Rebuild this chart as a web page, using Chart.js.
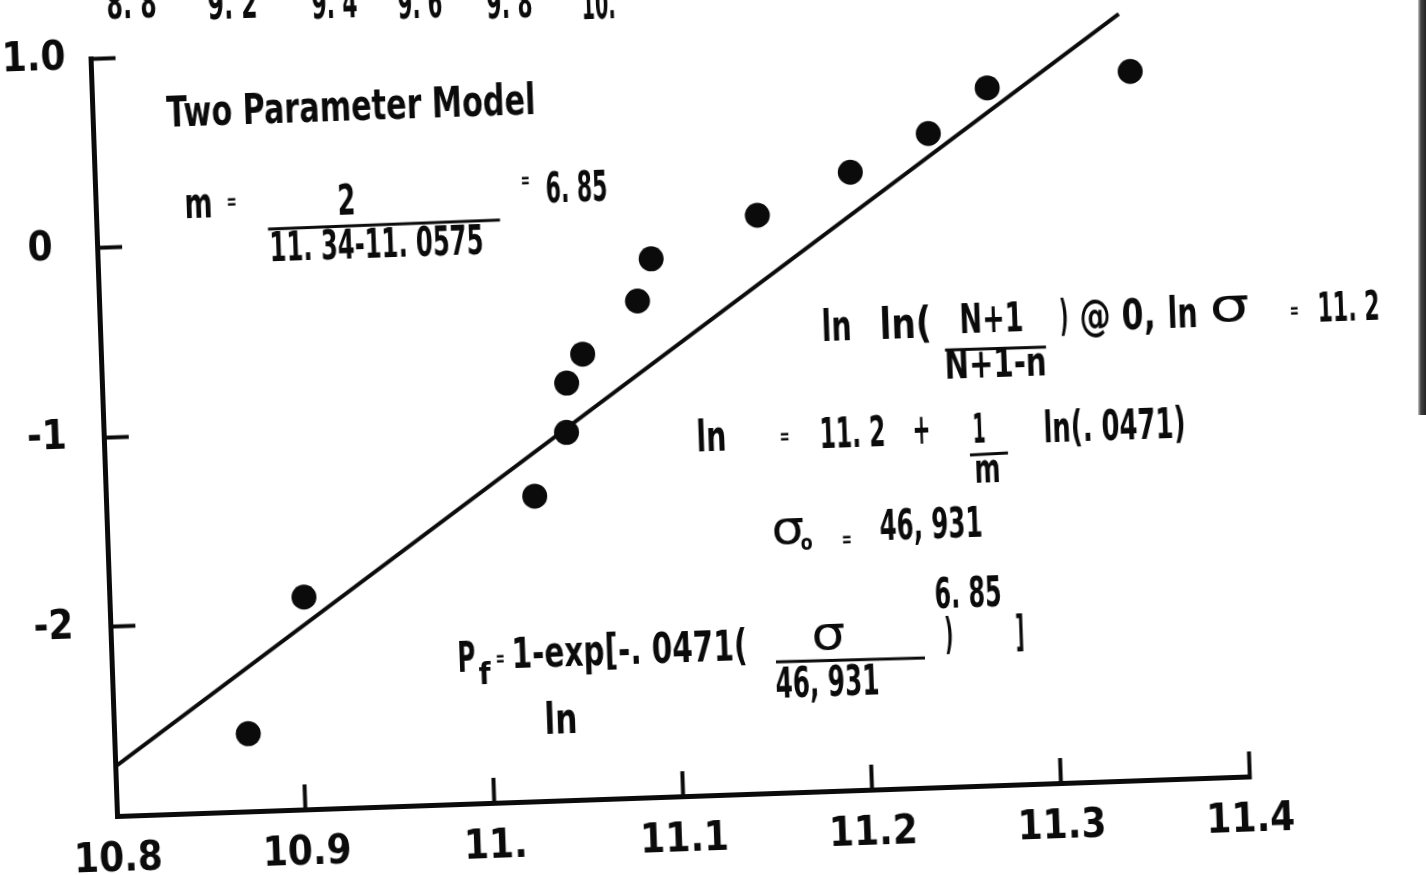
<!DOCTYPE html>
<html>
<head>
<meta charset="utf-8">
<title>Two Parameter Model</title>
<script src="https://cdn.jsdelivr.net/npm/chart.js@4.4.1/dist/chart.umd.min.js"></script>
<style>
  html, body { margin: 0; padding: 0; background: #fff; overflow: hidden; }
  #folha { position: relative; width: 1426px; height: 875px; overflow: hidden; }
  /* the scanned sheet sits about 2 degrees counter-clockwise */
  #grafico { position: absolute; left: 0; top: 0; transform-origin: 117px 816px; transform: rotate(-2deg); }
  #borda { position: absolute; right: 0; top: 0; width: 8px; height: 415px;
           background: linear-gradient(to right, #ccc, #444 35%, #222); }
</style>
</head>
<body>
<div id="folha">
  <canvas id="grafico" width="1426" height="875"></canvas>
  <div id="borda"></div>
</div>
<script>
// data
const lnSigma = [10.871, 10.903, 11.027, 11.045, 11.046, 11.055, 11.085, 11.093, 11.150, 11.200, 11.242, 11.274, 11.350]
const lnLn    = [-2.59, -1.88, -1.39, -1.06, -0.80, -0.65, -0.38, -0.16, 0.05, 0.26, 0.45, 0.68, 0.74]
const fitX = [10.80, 11.345]
const fitY = [-2.74, 1.045]

const xTicks  = [10.8, 10.9, 11.0, 11.1, 11.2, 11.3, 11.4]
const xLabels = ['10.8', '10.9', '11.', '11.1', '11.2', '11.3', '11.4']
const yTicks  = [-3, -2, -1, 0, 1]
const yLabels = ['', '-2', '-1', '0', '1.0']

const tinta = '#0b0b0b'
const familia = "'DejaVu Sans Condensed', 'DejaVu Sans', 'Liberation Sans', sans-serif"

// hand lettering on the sheet: text, left x, baseline y (page px), width, size
const notas = [
  {t: '8. 8', x: 107, y: 19, w: 50},
  {t: '9. 2', x: 208, y: 19, w: 50},
  {t: '9. 4', x: 312, y: 19, w: 46},
  {t: '9. 6', x: 398, y: 19, w: 45},
  {t: '9. 8', x: 487, y: 19, w: 46},
  {t: '10.', x: 582, y: 19, w: 34},
  {t: 'Two Parameter Model', x: 167, y: 127, w: 369},
  {t: 'm', x: 185, y: 218, w: 28},
  {t: '=', x: 227, y: 209, w: 10, s: 22},
  {t: '2', x: 338, y: 215, w: 18},
  {t: '11. 34-11. 0575', x: 270, y: 261, w: 214, s: 40},
  {t: '=', x: 521, y: 188, w: 9, s: 22},
  {t: '6. 85', x: 546, y: 203, w: 62},
  {t: 'ln', x: 822, y: 341, w: 30},
  {t: 'ln(', x: 880, y: 339, w: 52},
  {t: 'N+1', x: 960, y: 333, w: 64, s: 40},
  {t: 'N+1-n', x: 945, y: 379, w: 102, s: 40},
  {t: ')', x: 1060, y: 331, w: 9},
  {t: '@ 0,', x: 1080, y: 331, w: 76},
  {t: 'ln', x: 1168, y: 328, w: 30},
  {t: 'σ', x: 1210, y: 322, w: 40, s: 46, b: 'normal'},
  {t: '=', x: 1290, y: 318, w: 9, s: 22},
  {t: '11. 2', x: 1318, y: 322, w: 62, s: 40},
  {t: 'ln', x: 697, y: 452, w: 30},
  {t: '=', x: 780, y: 444, w: 10, s: 22},
  {t: '11. 2', x: 820, y: 448, w: 66},
  {t: '+', x: 913, y: 444, w: 18},
  {t: '1', x: 973, y: 443, w: 13, s: 40},
  {t: 'm', x: 975, y: 483, w: 26, s: 40},
  {t: 'ln(. 0471)', x: 1044, y: 442, w: 142},
  {t: 'σ', x: 772, y: 544, w: 33, s: 46, b: 'normal'},
  {t: 'o', x: 801, y: 550, w: 12, s: 22},
  {t: '=', x: 842, y: 547, w: 10, s: 22},
  {t: '46, 931', x: 880, y: 540, w: 103},
  {t: '6. 85', x: 935, y: 608, w: 67},
  {t: 'P', x: 458, y: 672, w: 18},
  {t: 'f', x: 479, y: 684, w: 12, s: 30},
  {t: '=', x: 496, y: 666, w: 9, s: 22},
  {t: '1-exp[-. 0471(', x: 512, y: 668, w: 236},
  {t: 'σ', x: 812, y: 650, w: 34, s: 46, b: 'normal'},
  {t: '46, 931', x: 776, y: 698, w: 104},
  {t: ')', x: 945, y: 649, w: 9},
  {t: ']', x: 1016, y: 647, w: 9},
  {t: 'ln', x: 545, y: 734, w: 33}
]
// fraction bars (page px)
const tracos = [
  [268, 229, 500, 220],
  [945, 350, 1046, 347],
  [970, 455, 1008, 453],
  [776, 662, 925, 658]
]

// page px -> canvas px (undo the -2deg turn of the canvas)
const O = {x: 117, y: 816}
const ang = 2 * Math.PI / 180
const co = Math.cos(ang), si = Math.sin(ang)
function naTela(px, py) {
  const dx = px - O.x, dy = py - O.y
  return [O.x + co * dx - si * dy, O.y + si * dx + co * dy]
}

const anotacoes = {
  id: 'anotacoes',
  afterDraw(chart) {
    const ctx = chart.ctx
    ctx.save()
    ctx.fillStyle = tinta
    ctx.textAlign = 'left'
    ctx.textBaseline = 'alphabetic'
    for (const n of notas) {
      const [cx, cy] = naTela(n.x, n.y)
      ctx.font = (n.b || 'bold') + ' ' + (n.s || 42) + 'px ' + familia
      const larg = ctx.measureText(n.t).width
      ctx.save()
      ctx.translate(cx, cy)
      ctx.scale(n.w / larg, 1)
      ctx.fillText(n.t, 0, 0)
      ctx.restore()
    }
    ctx.strokeStyle = tinta
    ctx.lineWidth = 3
    for (const [x1, y1, x2, y2] of tracos) {
      const a = naTela(x1, y1), b = naTela(x2, y2)
      ctx.beginPath()
      ctx.moveTo(a[0], a[1])
      ctx.lineTo(b[0], b[1])
      ctx.stroke()
    }
    ctx.restore()
  }
}

const ctx = document.getElementById('grafico')

new Chart(ctx, {
  type: 'scatter',
  data: {
    datasets: [{
      data: lnSigma.map((v, i) => ({x: v, y: lnLn[i]})),
      backgroundColor: tinta,
      borderWidth: 0,
      pointRadius: 12.5,
      pointHoverRadius: 12.5
    }, {
      type: 'line',
      data: fitX.map((v, i) => ({x: v, y: fitY[i]})),
      borderColor: tinta,
      borderWidth: 4,
      pointRadius: 0,
      fill: false,
      clip: false
    }]
  },
  options: {
    responsive: false,
    animation: false,
    events: [],
    devicePixelRatio: 1,
    layout: {padding: {top: 58, right: 176, left: 0, bottom: 0}},
    plugins: {legend: {display: false}, tooltip: {enabled: false}},
    scales: {
      x: {
        type: 'linear',
        min: 10.8,
        max: 11.4,
        afterBuildTicks: s => { s.ticks = xTicks.map(v => ({value: v})) },
        afterFit: s => { s.height = 59 },
        ticks: {
          autoSkip: false,
          maxRotation: 0,
          padding: 46,
          color: tinta,
          font: {family: familia, size: 40, weight: 'bold'},
          callback: (v, i) => xLabels[i]
        },
        grid: {drawOnChartArea: false, tickLength: -25, tickWidth: 4, tickColor: tinta},
        border: {display: true, color: tinta, width: 5}
      },
      y: {
        type: 'linear',
        min: -3,
        max: 1,
        afterBuildTicks: s => { s.ticks = yTicks.map(v => ({value: v})) },
        afterFit: s => { s.width = 117; s.paddingTop = 0; s.paddingBottom = 0 },
        ticks: {
          autoSkip: false,
          padding: 50,
          crossAlign: 'center',
          color: tinta,
          font: {family: familia, size: 40, weight: 'bold'},
          callback: (v, i) => yLabels[i]
        },
        grid: {drawOnChartArea: false, tickLength: -25, tickWidth: 4, tickColor: tinta},
        border: {display: true, color: tinta, width: 5}
      }
    }
  },
  plugins: [anotacoes]
})
</script>
</body>
</html>
